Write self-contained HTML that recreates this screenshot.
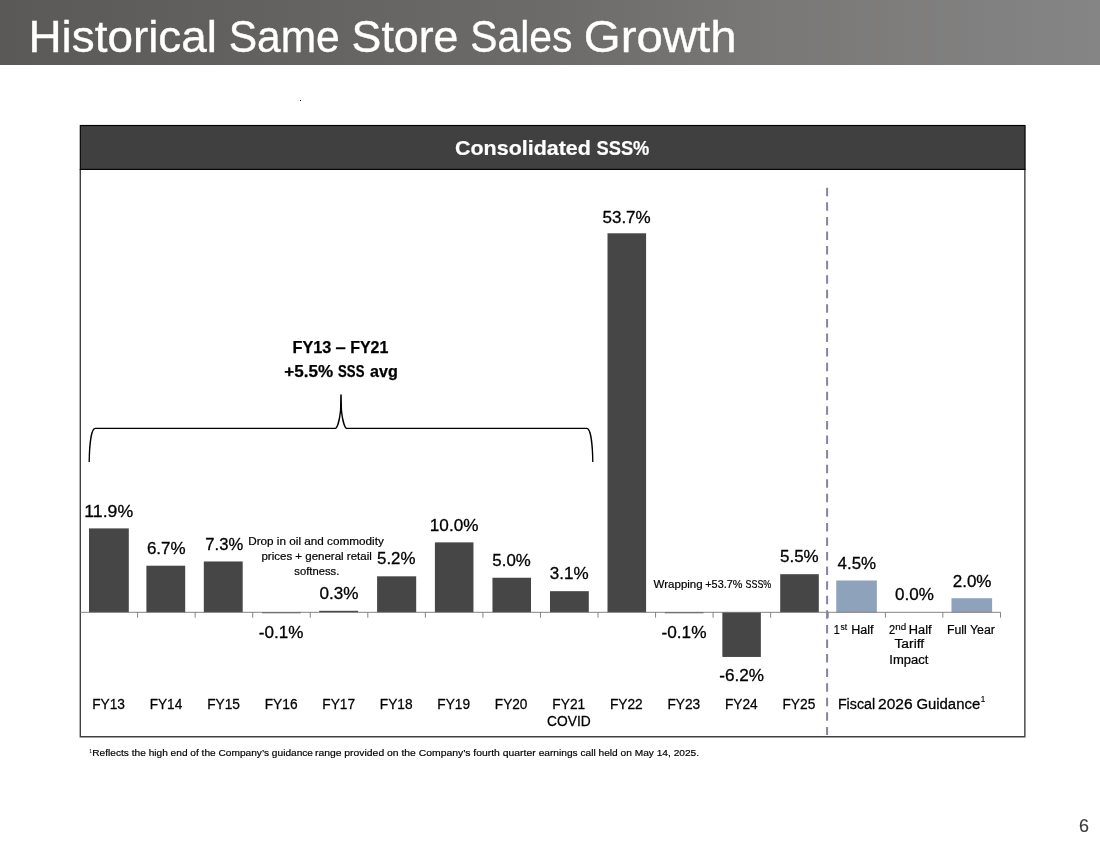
<!DOCTYPE html>
<html lang="en">
<head>
<meta charset="utf-8">
<title>Historical Same Store Sales Growth</title>
<style>
  html, body { margin: 0; padding: 0; background: #ffffff; }
  body { width: 1100px; height: 849px; overflow: hidden; }
  svg { display: block; font-family: "Liberation Sans", sans-serif; }
  text { white-space: pre; }
</style>
</head>
<body>
<svg width="1100" height="849" viewBox="0 0 1100 849">
  <defs>
    <linearGradient id="hdr" x1="0" y1="0" x2="1" y2="0">
      <stop offset="0" stop-color="#5a5958"/>
      <stop offset="0.5" stop-color="#6c6b6a"/>
      <stop offset="0.68" stop-color="#787776"/>
      <stop offset="1" stop-color="#868585"/>
    </linearGradient>
  </defs>

  <!-- slide header -->
  <rect x="0" y="0" width="1100" height="65" fill="url(#hdr)"/>

  <!-- stray mark -->
  <rect x="300" y="100" width="1" height="1" fill="#000"/>

  <!-- chart frame -->
  <path d="M80.3 169 V736.8 H1024.85 V169" fill="none" stroke="#404040" stroke-width="1.4"/>
  <rect x="80.3" y="125.5" width="944.75" height="43.9" fill="#404040" stroke="#000" stroke-width="1.15"/>

  <!-- bars: FY13 - FY25 -->
  <g fill="#464646">
    <rect x="89.00" y="528.40" width="39.80" height="83.90"/>
    <rect x="146.40" y="565.71" width="38.80" height="46.59"/>
    <rect x="203.80" y="561.47" width="38.90" height="50.83"/>
    <rect x="262.00" y="612.30" width="38.80" height="0.95"/>
    <rect x="319.20" y="610.80" width="38.90" height="1.50"/>
    <rect x="377.10" y="576.32" width="39.10" height="35.98"/>
    <rect x="434.90" y="542.37" width="38.55" height="69.93"/>
    <rect x="492.45" y="577.74" width="38.55" height="34.56"/>
    <rect x="550.00" y="591.17" width="38.80" height="21.13"/>
    <rect x="607.50" y="233.30" width="38.60" height="379.00"/>
    <rect x="664.80" y="612.30" width="38.70" height="0.95"/>
    <rect x="722.35" y="612.30" width="38.50" height="44.65"/>
    <rect x="780.20" y="574.20" width="38.60" height="38.10"/>
  </g>
  <!-- bars: fiscal 2026 guidance -->
  <g fill="#8ea2bc">
    <rect x="836.25" y="580.50" width="40.60" height="31.80"/>
    <rect x="951.50" y="598.20" width="40.60" height="14.10"/>
  </g>

  <!-- axis -->
  <g stroke="#6e6e6e" stroke-width="0.85" fill="none">
    <line x1="80" y1="612.3" x2="1000.50" y2="612.3"/>
    <line x1="137.60" y1="612.3" x2="137.60" y2="617.7"/>
    <line x1="195.15" y1="612.3" x2="195.15" y2="617.7"/>
    <line x1="252.70" y1="612.3" x2="252.70" y2="617.7"/>
    <line x1="310.25" y1="612.3" x2="310.25" y2="617.7"/>
    <line x1="367.80" y1="612.3" x2="367.80" y2="617.7"/>
    <line x1="425.35" y1="612.3" x2="425.35" y2="617.7"/>
    <line x1="482.90" y1="612.3" x2="482.90" y2="617.7"/>
    <line x1="540.45" y1="612.3" x2="540.45" y2="617.7"/>
    <line x1="598.00" y1="612.3" x2="598.00" y2="617.7"/>
    <line x1="655.55" y1="612.3" x2="655.55" y2="617.7"/>
    <line x1="713.10" y1="612.3" x2="713.10" y2="617.7"/>
    <line x1="770.65" y1="612.3" x2="770.65" y2="617.7"/>
    <line x1="828.20" y1="612.3" x2="828.20" y2="617.7"/>
    <line x1="885.40" y1="612.3" x2="885.40" y2="617.7"/>
    <line x1="942.80" y1="612.3" x2="942.80" y2="617.7"/>
    <line x1="1000.50" y1="612.3" x2="1000.50" y2="617.7"/>
  </g>

  <!-- FY26 divider -->
  <line x1="827.1" y1="187.8" x2="827.1" y2="735" stroke="#80869f" stroke-width="2" stroke-dasharray="8.5 6.07"/>

  <!-- brace -->
  <path d="M89.2 462 C89.4 446 91.2 428.3 95.2 428.3 L335.6 428.3 C337.2 427.5 339.6 420 340.6 410 L340.9 395 L341.1 395 L341.4 410 C342.4 420 344.8 427.5 346.4 428.3 L586.8 428.3 C590.8 428.3 592.6 446 592.8 462" fill="none" stroke="#000" stroke-width="1.35" stroke-linejoin="round"/>

  <!-- text -->
  <g fill="#000" stroke="#000" stroke-width="0.3" stroke-linejoin="round">
    <text y="52.00" font-size="44.9" fill="#fff" stroke="#fff" stroke-width="0.36"><tspan x="28.42" textLength="188.61" lengthAdjust="spacingAndGlyphs">Historical</tspan> <tspan x="228.67" textLength="111.05" lengthAdjust="spacingAndGlyphs">Same</tspan> <tspan x="351.60" textLength="106.81" lengthAdjust="spacingAndGlyphs">Store</tspan> <tspan x="470.33" textLength="101.95" lengthAdjust="spacingAndGlyphs">Sales</tspan> <tspan x="583.78" textLength="152.89" lengthAdjust="spacingAndGlyphs">Growth</tspan></text>
    <text y="155.30" font-size="20.4" font-weight="700" fill="#fff" stroke="#fff" stroke-width="0.20"><tspan x="455.03" textLength="135.84" lengthAdjust="spacingAndGlyphs">Consolidated</tspan> <tspan x="596.51" textLength="52.84" lengthAdjust="spacingAndGlyphs">SSS%</tspan></text>
    <text y="352.80" font-size="16.5" font-weight="700" stroke-width="0.25"><tspan x="292.58" textLength="38.82" lengthAdjust="spacingAndGlyphs">FY13</tspan> <tspan x="335.41" textLength="10.25" lengthAdjust="spacingAndGlyphs">–</tspan> <tspan x="350.20" textLength="38.20" lengthAdjust="spacingAndGlyphs">FY21</tspan></text>
    <text y="376.80" font-size="16.5" font-weight="700" stroke-width="0.25"><tspan x="284.27" textLength="48.77" lengthAdjust="spacingAndGlyphs">+5.5%</tspan> <tspan x="338.09" textLength="26.35" lengthAdjust="spacingAndGlyphs">SSS</tspan> <tspan x="370.05" textLength="27.78" lengthAdjust="spacingAndGlyphs">avg</tspan></text>
    <text x="248.18" y="545.40" font-size="11" stroke-width="0.20" textLength="135.62" lengthAdjust="spacingAndGlyphs">Drop in oil and commodity</text>
    <text x="261.48" y="560.20" font-size="11" stroke-width="0.20" textLength="110.28" lengthAdjust="spacingAndGlyphs">prices + general retail</text>
    <text x="294.32" y="574.75" font-size="11" stroke-width="0.20" textLength="44.99" lengthAdjust="spacingAndGlyphs">softness.</text>
    <text y="587.90" font-size="11" stroke-width="0.20"><tspan x="653.60" textLength="49.05" lengthAdjust="spacingAndGlyphs">Wrapping</tspan> <tspan x="705.29" textLength="37.13" lengthAdjust="spacingAndGlyphs">+53.7%</tspan> <tspan x="745.62" textLength="25.64" lengthAdjust="spacingAndGlyphs">SSS%</tspan></text>
    <text x="84.29" y="517.00" font-size="17.3" textLength="48.83" lengthAdjust="spacingAndGlyphs">11.9%</text>
    <text x="146.90" y="554.00" font-size="17.3" textLength="38.70" lengthAdjust="spacingAndGlyphs">6.7%</text>
    <text x="205.32" y="549.80" font-size="17.3" textLength="37.87" lengthAdjust="spacingAndGlyphs">7.3%</text>
    <text x="258.87" y="638.30" font-size="17.3" textLength="44.64" lengthAdjust="spacingAndGlyphs">-0.1%</text>
    <text x="319.46" y="599.00" font-size="17.3" textLength="39.05" lengthAdjust="spacingAndGlyphs">0.3%</text>
    <text x="377.07" y="563.90" font-size="17.3" textLength="38.43" lengthAdjust="spacingAndGlyphs">5.2%</text>
    <text x="429.83" y="530.90" font-size="17.3" textLength="48.58" lengthAdjust="spacingAndGlyphs">10.0%</text>
    <text x="492.37" y="566.00" font-size="17.3" textLength="38.43" lengthAdjust="spacingAndGlyphs">5.0%</text>
    <text x="549.77" y="578.80" font-size="17.3" textLength="38.84" lengthAdjust="spacingAndGlyphs">3.1%</text>
    <text x="602.47" y="222.90" font-size="17.3" textLength="48.24" lengthAdjust="spacingAndGlyphs">53.7%</text>
    <text x="661.46" y="637.60" font-size="17.3" textLength="45.05" lengthAdjust="spacingAndGlyphs">-0.1%</text>
    <text x="719.26" y="680.80" font-size="17.3" textLength="44.75" lengthAdjust="spacingAndGlyphs">-6.2%</text>
    <text x="779.97" y="561.90" font-size="17.3" textLength="38.74" lengthAdjust="spacingAndGlyphs">5.5%</text>
    <text x="837.54" y="568.50" font-size="17.3" textLength="38.57" lengthAdjust="spacingAndGlyphs">4.5%</text>
    <text x="895.07" y="600.30" font-size="17.3" textLength="38.84" lengthAdjust="spacingAndGlyphs">0.0%</text>
    <text x="952.70" y="586.80" font-size="17.3" textLength="38.81" lengthAdjust="spacingAndGlyphs">2.0%</text>
    <text x="92.13" y="709.10" font-size="15.5" stroke-width="0.28" textLength="32.83" lengthAdjust="spacingAndGlyphs">FY13</text>
    <text x="149.66" y="709.10" font-size="15.5" stroke-width="0.28" textLength="32.61" lengthAdjust="spacingAndGlyphs">FY14</text>
    <text x="207.19" y="709.10" font-size="15.5" stroke-width="0.28" textLength="32.83" lengthAdjust="spacingAndGlyphs">FY15</text>
    <text x="264.72" y="709.10" font-size="15.5" stroke-width="0.28" textLength="32.83" lengthAdjust="spacingAndGlyphs">FY16</text>
    <text x="322.25" y="709.10" font-size="15.5" stroke-width="0.28" textLength="32.83" lengthAdjust="spacingAndGlyphs">FY17</text>
    <text x="379.78" y="709.10" font-size="15.5" stroke-width="0.28" textLength="32.83" lengthAdjust="spacingAndGlyphs">FY18</text>
    <text x="437.31" y="709.10" font-size="15.5" stroke-width="0.28" textLength="32.83" lengthAdjust="spacingAndGlyphs">FY19</text>
    <text x="494.84" y="709.10" font-size="15.5" stroke-width="0.28" textLength="32.61" lengthAdjust="spacingAndGlyphs">FY20</text>
    <text x="552.37" y="709.10" font-size="15.5" stroke-width="0.28" textLength="32.83" lengthAdjust="spacingAndGlyphs">FY21</text>
    <text x="609.90" y="709.10" font-size="15.5" stroke-width="0.28" textLength="32.83" lengthAdjust="spacingAndGlyphs">FY22</text>
    <text x="667.43" y="709.10" font-size="15.5" stroke-width="0.28" textLength="32.83" lengthAdjust="spacingAndGlyphs">FY23</text>
    <text x="724.96" y="709.10" font-size="15.5" stroke-width="0.28" textLength="32.61" lengthAdjust="spacingAndGlyphs">FY24</text>
    <text x="782.49" y="709.10" font-size="15.5" stroke-width="0.28" textLength="32.83" lengthAdjust="spacingAndGlyphs">FY25</text>
    <text x="547.05" y="725.80" font-size="15.5" stroke-width="0.28" textLength="43.62" lengthAdjust="spacingAndGlyphs">COVID</text>
    <text y="708.90" font-size="15.5" stroke-width="0.28"><tspan x="837.89" textLength="37.26" lengthAdjust="spacingAndGlyphs">Fiscal</tspan> <tspan x="878.07" textLength="34.56" lengthAdjust="spacingAndGlyphs">2026</tspan> <tspan x="916.40" textLength="63.80" lengthAdjust="spacingAndGlyphs">Guidance</tspan></text>
    <text x="980.79" y="701.70" font-size="9.8" stroke-width="0.18" textLength="4.54" lengthAdjust="spacingAndGlyphs">1</text>
    <text x="833.82" y="633.80" font-size="12.3" stroke-width="0.22" textLength="6.01" lengthAdjust="spacingAndGlyphs">1</text>
    <text x="840.57" y="629.90" font-size="8.3" stroke-width="0.15" textLength="6.71" lengthAdjust="spacingAndGlyphs">st</text>
    <text x="851.22" y="633.80" font-size="12.3" stroke-width="0.22" textLength="22.23" lengthAdjust="spacingAndGlyphs">Half</text>
    <text x="888.98" y="633.80" font-size="12.3" stroke-width="0.22" textLength="6.17" lengthAdjust="spacingAndGlyphs">2</text>
    <text x="895.39" y="629.90" font-size="8.3" stroke-width="0.15" textLength="10.86" lengthAdjust="spacingAndGlyphs">nd</text>
    <text x="908.80" y="633.80" font-size="12.3" stroke-width="0.22" textLength="22.76" lengthAdjust="spacingAndGlyphs">Half</text>
    <text x="894.48" y="647.70" font-size="12.3" stroke-width="0.22" textLength="29.67" lengthAdjust="spacingAndGlyphs">Tariff</text>
    <text x="889.29" y="664.10" font-size="12.3" stroke-width="0.22" textLength="38.97" lengthAdjust="spacingAndGlyphs">Impact</text>
    <text x="946.94" y="633.80" font-size="12.3" stroke-width="0.22" textLength="48.02" lengthAdjust="spacingAndGlyphs">Full Year</text>
    <text x="89.45" y="752.50" font-size="5" stroke-width="0.09" textLength="2.21" lengthAdjust="spacingAndGlyphs">1</text>
    <text y="755.90" font-size="9.8" stroke-width="0.18"><tspan x="92.31" textLength="220.70" lengthAdjust="spacingAndGlyphs">Reflects the high end of the Company’s guidance</tspan> <tspan x="314.95" textLength="220.70" lengthAdjust="spacingAndGlyphs">range provided on the Company’s fourth quarter</tspan> <tspan x="538.68" textLength="160.44" lengthAdjust="spacingAndGlyphs">earnings call held on May 14, 2025.</tspan></text>
    <text x="1078.96" y="832.30" font-size="18.8" fill="#3c3c3c" stroke="#3c3c3c" stroke-width="0.15" textLength="9.97" lengthAdjust="spacingAndGlyphs">6</text>
  </g>
</svg>
</body>
</html>
